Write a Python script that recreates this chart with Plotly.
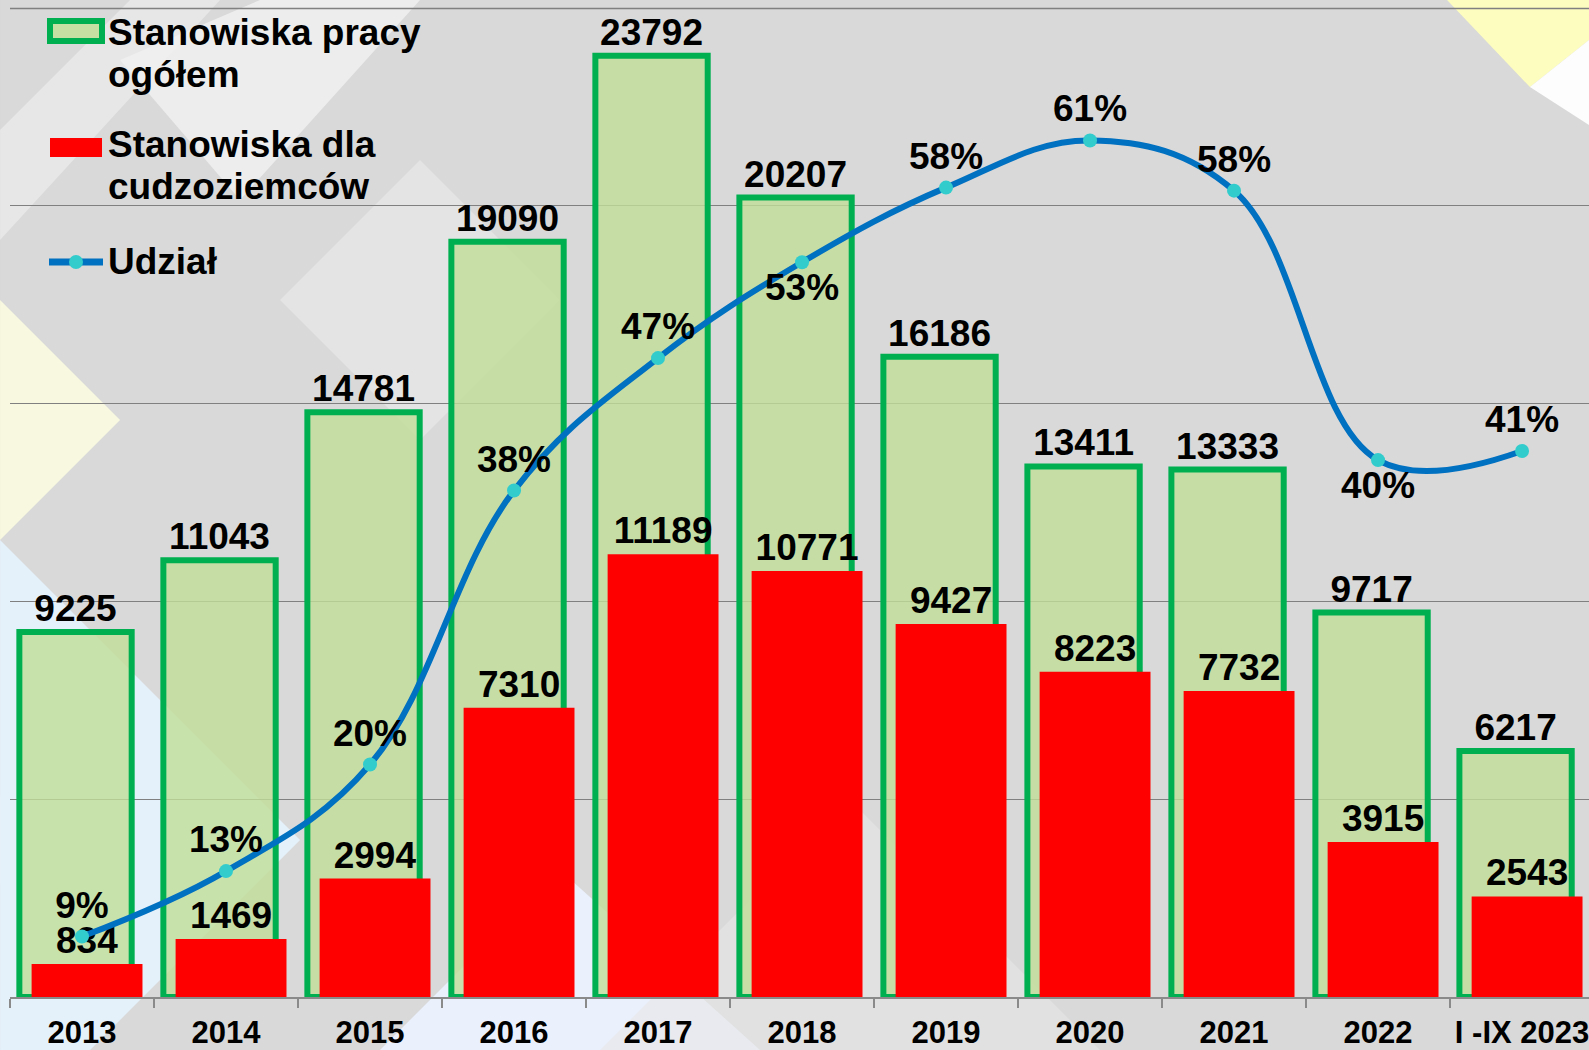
import plotly.graph_objects as go

# ---- data ----
years = ["2013", "2014", "2015", "2016", "2017", "2018", "2019", "2020", "2021", "2022", "I -IX 2023"]
total_jobs = [9225, 11043, 14781, 19090, 23792, 20207, 16186, 13411, 13333, 9717, 6217]
foreign_jobs = [834, 1469, 2994, 7310, 11189, 10771, 9427, 8223, 7732, 3915, 2543]
share_pct = [9.0, 13.3, 20.3, 38.3, 47.0, 53.3, 58.2, 61.3, 58.0, 40.3, 40.9]

# ---- geometry ----
W, H = 1589, 1050
L, R, T, B = 10, 1589, 8, 997


def px(x):
    return (x - L) / (R - L)


def py(y):
    return (B - y) / (B - T)


FONT = "Arial, Liberation Sans, sans-serif"
share_text_pos = ["top center"] * len(share_pct)
share_text_pos[5] = "bottom center"
share_text_pos[9] = "bottom center"

fig = go.Figure()

fig.add_trace(go.Bar(
    x=years, y=total_jobs, name="Stanowiska pracy ogółem",
    width=0.78, offset=-0.435,
    marker=dict(color="rgba(192,223,152,0.8)", line=dict(color="#00B050", width=6)),
    texttemplate="%{y:.0f}", textposition="outside", constraintext="none",
    textfont=dict(family=FONT, size=37, color="black", weight="bold"),
    cliponaxis=False,
))
fig.add_trace(go.Bar(
    x=years, y=foreign_jobs, name="Stanowiska dla cudzoziemców",
    width=0.77, offset=-0.35,
    marker=dict(color="#FF0000", line=dict(width=0)),
    texttemplate="%{y:.0f}", textposition="outside", constraintext="none",
    textfont=dict(family=FONT, size=37, color="black", weight="bold"),
    cliponaxis=False,
))
fig.add_trace(go.Scatter(
    x=years, y=share_pct, name="Udział", yaxis="y2",
    mode="lines+markers+text",
    line=dict(color="#0070C0", width=6, shape="spline", smoothing=1.1),
    marker=dict(color="#33CCCC", size=14),
    texttemplate="%{y:.0f}%", textposition=share_text_pos,
    textfont=dict(family=FONT, size=37, color="black", weight="bold"),
    cliponaxis=False,
))

# ---- decorative background ----
def poly(points, color):
    d = "M " + " L ".join(f"{px(x):.4f},{py(y):.4f}" for x, y in points) + " Z"
    return dict(type="path", xref="paper", yref="paper", path=d,
                fillcolor=color, line=dict(width=0), layer="below")


shapes = [
    poly([(0, 0), (1589, 0), (1589, 1050), (0, 1050)], "#d9d9d9"),
    poly([(0, 300), (120, 420), (0, 540)], "rgba(255,255,225,0.8)"),
    poly([(0, 540), (300, 840), (90, 1050), (0, 1050)], "rgba(230,245,255,0.85)"),
    poly([(380, 1050), (560, 870), (760, 1050)], "rgba(235,242,255,0.9)"),
    poly([(120, 60), (260, 0), (420, 0), (240, 200)], "rgba(245,245,245,0.7)"),
    poly([(0, 130), (130, 0), (220, 0), (0, 240)], "rgba(240,240,240,0.6)"),
    poly([(280, 300), (420, 160), (560, 300), (420, 440)], "rgba(240,240,240,0.5)"),
    poly([(1447, 0), (1589, 0), (1589, 40), (1530, 87)], "rgba(255,255,190,0.95)"),
    poly([(1530, 87), (1589, 40), (1589, 125)], "rgba(255,255,255,0.95)"),
    poly([(600, 1050), (850, 800), (1100, 1050)], "rgba(230,230,230,0.6)"),
    # top gridline (at the upper edge of the value range)
    dict(type="line", xref="paper", yref="paper", x0=0, x1=1, y0=py(8.5), y1=py(8.5),
         line=dict(color="#808080", width=1.3), layer="below"),
]

# ---- custom legend ----
shapes += [
    dict(type="rect", xref="paper", yref="paper",
         x0=px(50), x1=px(102), y0=py(21), y1=py(41),
         fillcolor="#C6E0A4", line=dict(color="#00B050", width=6)),
    dict(type="rect", xref="paper", yref="paper",
         x0=px(50), x1=px(102), y0=py(138), y1=py(157),
         fillcolor="#FF0000", line=dict(width=0)),
    dict(type="line", xref="paper", yref="paper",
         x0=px(49), x1=px(103), y0=py(262), y1=py(262),
         line=dict(color="#0070C0", width=7)),
    dict(type="circle", xref="paper", yref="paper",
         x0=px(69), x1=px(83), y0=py(255), y1=py(269),
         fillcolor="#33CCCC", line=dict(width=0)),
]

legend_lines = [
    ("Stanowiska pracy", 32),
    ("ogółem", 74),
    ("Stanowiska dla", 145),
    ("cudzoziemców", 187),
    ("Udział", 261),
]
annotations = [
    dict(text=t, xref="paper", yref="paper", x=px(106), y=py(yc),
         xanchor="left", yanchor="middle", showarrow=False,
         font=dict(family=FONT, size=37, color="black", weight="bold"))
    for t, yc in legend_lines
]

fig.update_layout(
    width=W, height=H,
    margin=dict(l=L, r=W - R, t=T, b=H - B, autoexpand=False),
    paper_bgcolor="#d9d9d9", plot_bgcolor="rgba(0,0,0,0)",
    barmode="overlay", showlegend=False,
    shapes=shapes, annotations=annotations,
    xaxis=dict(type="category", range=[-0.5, 10.465], automargin=False,
               showline=True, linecolor="#8a8a8a", linewidth=1.5,
               ticks="outside", tickson="boundaries", ticklen=9,
               tickcolor="#8a8a8a", tickwidth=1.5, ticklabelstandoff=7,
               tickfont=dict(family=FONT, size=31, color="black", weight="bold"),
               showgrid=False),
    yaxis=dict(range=[0, 25000], dtick=5000, showgrid=True, automargin=False,
               gridcolor="#808080", gridwidth=1.3, showticklabels=False,
               zeroline=False, fixedrange=True),
    yaxis2=dict(range=[5.03, 70.0], overlaying="y", visible=False),
    font=dict(family=FONT),
)

fig.write_html("out.html", config={"displayModeBar": False},
               post_script="document.body.style.margin='0';document.body.style.overflow='hidden';")
